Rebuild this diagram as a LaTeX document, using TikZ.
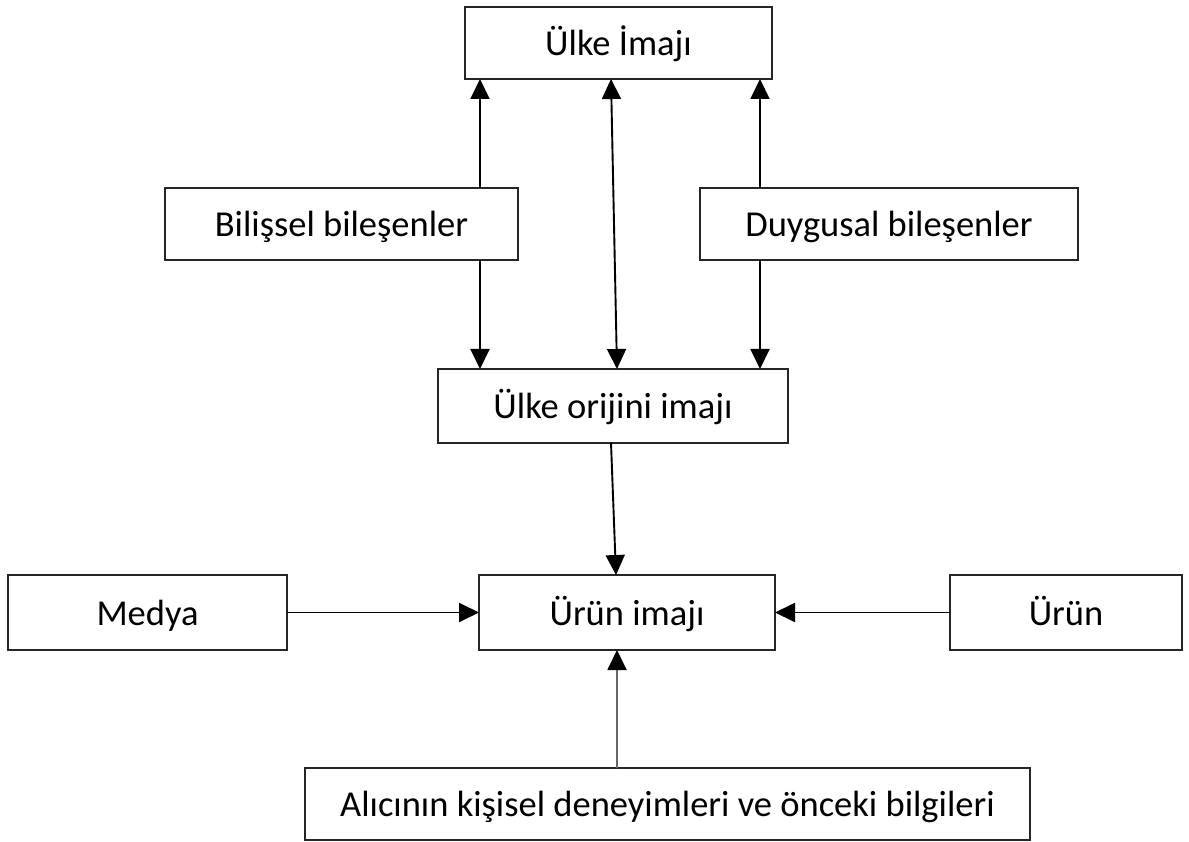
\documentclass[tikz,border=0pt]{standalone}
\usepackage{fontspec}
\setmainfont{Carlito}
\usetikzlibrary{arrows.meta}
\begin{document}
\begin{tikzpicture}[x=1pt,y=-1pt,
  box/.style={draw=black!85, line width=1.8pt, inner sep=0pt, font=\fontsize{36.5}{44}\selectfont, text=black, outer sep=0pt, text height=25pt, text depth=0pt},
  arr/.style={line width=1.9pt, -{Triangle[length=20pt,width=19pt]}},
  arrg/.style={line width=1.9pt, draw=black!60, -{Triangle[length=20pt,width=19pt,color=black]}},
  arrb/.style={line width=1.9pt, {Triangle[length=20pt,width=19pt]}-{Triangle[length=20pt,width=19pt]}}]
\useasboundingbox (0,0) rectangle (1189,842);
\node[box, minimum width=307pt, minimum height=72pt] (ulke) at (618.5,43) {Ülke İmajı};
\node[box, minimum width=353pt, minimum height=72pt] (bil) at (341.5,224) {Bilişsel bileşenler};
\node[box, minimum width=378pt, minimum height=72pt] (duy) at (889,224) {Duygusal bileşenler};
\node[box, minimum width=350pt, minimum height=74pt] (orij) at (613,406) {Ülke orijini imajı};
\node[box, minimum width=279pt, minimum height=75pt] (medya) at (147.5,612.5) {Medya};
\node[box, minimum width=296pt, minimum height=75pt] (uimaj) at (627,612.5) {Ürün imajı};
\node[box, minimum width=232pt, minimum height=75pt] (urun) at (1066,612.5) {Ürün};
\node[box, minimum width=725pt, minimum height=72pt] (alici) at (667.5,804) {Alıcının kişisel deneyimleri ve önceki bilgileri};
\coordinate (xl) at (480,0);
\coordinate (xr) at (760,0);
\coordinate (xa) at (617,0);
\draw[arr] (bil.north -| xl) -- (ulke.south -| xl);
\draw[arr] (bil.south -| xl) -- (orij.north -| xl);
\draw[arr] (duy.north -| xr) -- (ulke.south -| xr);
\draw[arr] (duy.south -| xr) -- (orij.north -| xr);
\draw[arrb] ([xshift=-7.5pt]ulke.south) -- ([xshift=4pt]orij.north);
\draw[arr] ([xshift=-2pt]orij.south) -- ([xshift=-11pt]uimaj.north);
\draw[arr] (medya.east) -- (uimaj.west);
\draw[arr] (urun.west) -- (uimaj.east);
\draw[arrg] (alici.north -| xa) -- (uimaj.south -| xa);
\end{tikzpicture}
\end{document}
